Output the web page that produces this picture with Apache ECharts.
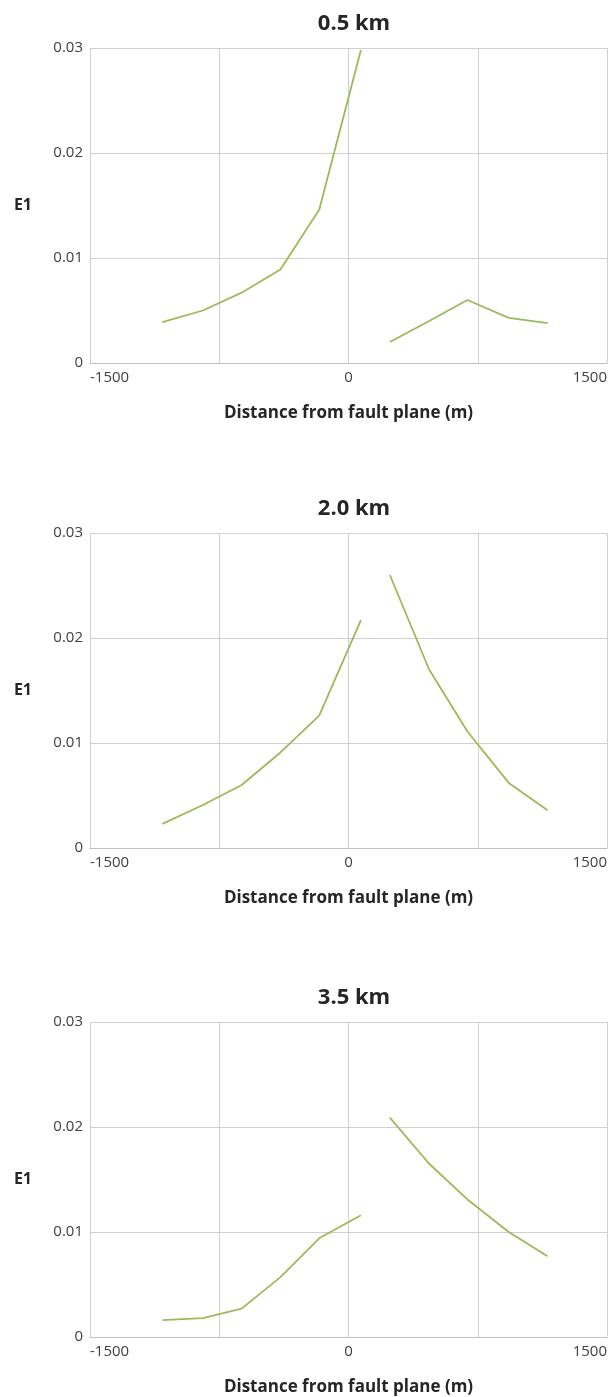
<!DOCTYPE html>
<html>
<head>
<meta charset="utf-8">
<script src="https://cdn.jsdelivr.net/npm/echarts@6/dist/echarts.min.js"></script>
<style>
html,body{margin:0;padding:0;background:#fff;}
#chart{width:610px;height:1397px;}
</style>
</head>
<body>
<div id="chart"></div>
<script>
// Panel titles
const panelTitles = ['0.5 km', '2.0 km', '3.5 km'];
// Distances from fault plane (m), footwall (left) and hanging wall (right) sides
const xLeft = [-1080, -845, -620, -395, -170, 72];
const xRight = [240, 468, 690, 930, 1155];
// E1 values
const e1Left05 = [0.0039, 0.0050, 0.0067, 0.0089, 0.0146, 0.0298];
const e1Right05 = [0.0020, 0.0040, 0.0060, 0.0043, 0.0038];
const e1Left20 = [0.0023, 0.0041, 0.0060, 0.0091, 0.0126, 0.0217];
const e1Right20 = [0.0260, 0.0170, 0.0111, 0.0062, 0.0036];
const e1Left35 = [0.0016, 0.0018, 0.0027, 0.0057, 0.0094, 0.0116];
const e1Right35 = [0.0209, 0.0165, 0.0131, 0.0100, 0.0077];
// Axis ticks
const xTicks = { min: -1500, max: 1500, interval: 750, labelled: [-1500, 0, 1500] };
const yTicks = { min: 0, max: 0.03, interval: 0.01 };
const xAxisTitle = 'Distance from fault plane (m)';
const yAxisTitle = 'E1';

const panels = [
  { left: e1Left05, right: e1Right05 },
  { left: e1Left20, right: e1Right20 },
  { left: e1Left35, right: e1Right35 }
];
const gridTops = [48, 533, 1022];
const gridH = 315;
const FONT = '"Open Sans", "Noto Sans", sans-serif';
const lineColor = '#9bbb59';

const pairs = (xs, ys) => xs.map((x, i) => [x, ys[i]]);

const option = {
  animation: false,
  backgroundColor: '#fff',
  title: panelTitles.map((t, i) => ({
    text: t,
    left: 349,
    textAlign: 'center',
    top: gridTops[i] - 40,
    textStyle: { fontFamily: FONT, fontSize: 22, fontWeight: 'bold', color: '#262626' }
  })),
  grid: gridTops.map(t => ({ left: 90, width: 519, top: t, height: gridH, containLabel: false })),
  xAxis: gridTops.map((t, i) => ({
    type: 'value', gridIndex: i,
    min: xTicks.min, max: xTicks.max, interval: xTicks.interval,
    name: xAxisTitle, nameLocation: 'middle', nameGap: 42,
    nameTextStyle: { fontFamily: FONT, fontSize: 17, fontWeight: 'bold', color: '#262626' },
    axisLine: { show: true, lineStyle: { color: '#bfbfbf', width: 1 } },
    axisTick: { show: false },
    splitLine: { show: true, lineStyle: { color: '#d0d0d0', width: 1 } },
    axisLabel: {
      fontFamily: FONT, fontSize: 15, color: '#404040', margin: 7,
      alignMinLabel: 'left', alignMaxLabel: 'right',
      formatter: v => xTicks.labelled.includes(v) ? String(v) : ''
    }
  })),
  yAxis: gridTops.map((t, i) => ({
    type: 'value', gridIndex: i,
    min: yTicks.min, max: yTicks.max, interval: yTicks.interval,
    name: yAxisTitle, nameLocation: 'middle', nameRotate: 0, nameGap: 58,
    nameTextStyle: { fontFamily: FONT, fontSize: 16, fontWeight: 'bold', color: '#262626' },
    axisLine: { show: false },
    axisTick: { show: false },
    splitLine: { show: true, lineStyle: { color: '#d0d0d0', width: 1 } },
    axisLabel: {
      fontFamily: FONT, fontSize: 15, color: '#404040', margin: 7,
      formatter: v => v === 0 ? '0' : v.toFixed(2)
    }
  })),
  series: []
};

panels.forEach((p, i) => {
  option.series.push({
    type: 'line', xAxisIndex: i, yAxisIndex: i,
    data: pairs(xLeft, p.left), showSymbol: false, symbol: 'none',
    lineStyle: { color: lineColor, width: 1.8 }
  });
  option.series.push({
    type: 'line', xAxisIndex: i, yAxisIndex: i,
    data: pairs(xRight, p.right), showSymbol: false, symbol: 'none',
    lineStyle: { color: lineColor, width: 1.8 }
  });
});

const chart = echarts.init(document.getElementById('chart'), null, { renderer: 'canvas' });
chart.setOption(option);
</script>
</body>
</html>
